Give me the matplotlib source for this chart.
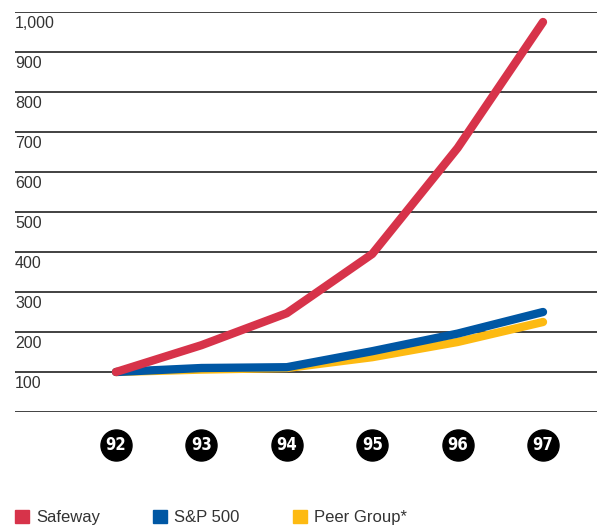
import matplotlib
matplotlib.use("Agg")
from matplotlib import pyplot as plt
from matplotlib.patches import Patch

years = [92, 93, 94, 95, 96, 97]
year_labels = ["92", "93", "94", "95", "96", "97"]
safeway = [100, 167, 247, 395, 660, 975]
sp500 = [100, 110, 112, 152, 196, 250]
peer_group = [100, 106, 110, 137, 175, 225]
levels = [0, 100, 200, 300, 400, 500, 600, 700, 800, 900, 1000]
level_labels = ["", "100", "200", "300", "400", "500", "600", "700", "800", "900", "1,000"]

RED = "#D7334A"
BLUE = "#0057A4"
YELLOW = "#FDBA12"

plt.rcParams['font.family'] = ['Liberation Sans', 'DejaVu Sans']

W, H = 597, 527
fig = plt.figure(figsize=(W / 100, H / 100), dpi=100)
ax = fig.add_axes([15 / W, (H - 412) / H, 1 - 15 / W, 400 / H])
ax.set_ylim(0, 1000)
ax.set_xlim(92 - 101 / 85.4, 97 + 54 / 85.4)
ax.axis("off")

# horizontal rules + labels under each rule
for lv, lab in zip(levels, level_labels):
    ax.axhline(lv, color="#333333", lw=1.3, zorder=1)
    if lab:
        ax.text(0, lv - 30, lab, transform=ax.get_yaxis_transform(),
                ha="left", va="center", fontsize=11.5, color="#333333")

ax.plot(years, peer_group, color=YELLOW, lw=6, solid_capstyle="round", zorder=3)
ax.plot(years, sp500, color=BLUE, lw=6, solid_capstyle="round", zorder=4)
ax.plot(years, safeway, color=RED, lw=6, solid_capstyle="round", zorder=5)

# year badges
ax.scatter(years, [-82] * len(years), s=500, color="black", clip_on=False, zorder=6)
for x, lab in zip(years, year_labels):
    ax.text(x, -83, lab, ha="center", va="center", color="white",
            fontsize=12, fontweight="bold", family="DejaVu Sans",
            fontstretch="condensed", zorder=7, clip_on=False)

handles = [Patch(color=RED, label="Safeway"),
           Patch(color=BLUE, label="S&P 500"),
           Patch(color=YELLOW, label="Peer Group*")]
fig.legend(handles=handles, loc="lower left", bbox_to_anchor=(15 / W, 2 / H),
           ncol=3, frameon=False, fontsize=12, handlelength=0.85, handleheight=0.85,
           handletextpad=0.4, columnspacing=3.2, borderpad=0, borderaxespad=0,
           labelcolor="#333333")

fig.savefig("out.png", dpi=100)
